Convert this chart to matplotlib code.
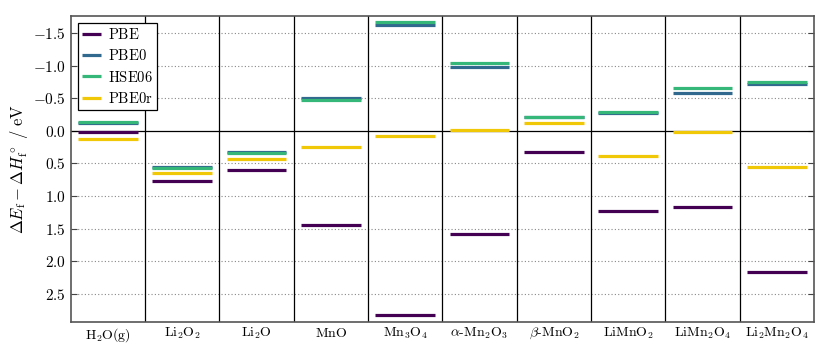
import numpy as np
import matplotlib
matplotlib.use('Agg')
import matplotlib.pyplot as plt
from matplotlib.ticker import FuncFormatter

plt.rcParams['mathtext.fontset'] = 'cm'
plt.rcParams['font.family'] = 'serif'
plt.rcParams['font.serif'] = ['DejaVu Serif']

# compounds along x
compounds = [r'$\mathrm{H_2O(g)}$', r'$\mathrm{Li_2O_2}$', r'$\mathrm{Li_2O}$',
             r'$\mathrm{MnO}$', r'$\mathrm{Mn_3O_4}$', r'$\alpha\mathrm{\text{-}Mn_2O_3}$',
             r'$\beta\mathrm{\text{-}MnO_2}$', r'$\mathrm{LiMnO_2}$',
             r'$\mathrm{LiMn_2O_4}$', r'$\mathrm{Li_2Mn_2O_4}$']

# Delta E_f - Delta H_f (eV), one list per functional
pbe   = [0.02, 0.77, 0.60, 1.45, 2.82, 1.59, 0.32, 1.23, 1.17, 2.16]
pbe0  = [-0.12, 0.56, 0.33, -0.50, -1.62, -0.98, -0.21, -0.28, -0.59, -0.72]
hse06 = [-0.13, 0.57, 0.34, -0.48, -1.67, -1.04, -0.22, -0.29, -0.66, -0.75]
pbe0r = [0.12, 0.65, 0.43, 0.24, 0.08, -0.01, -0.12, 0.39, 0.02, 0.56]

series = [('PBE', pbe, '#440154'),
          ('PBE0', pbe0, '#31688e'),
          ('HSE06', hse06, '#35b779'),
          ('PBE0r', pbe0r, '#f0c808')]

fig = plt.figure(figsize=(8.3, 3.56), dpi=100)
ax = fig.add_axes([0.0852, 0.0963, 0.8955, 0.8597])

n = len(compounds)
for label, vals, col in series:
    for i, v in enumerate(vals):
        ax.plot([i + 0.1, i + 0.9], [v, v], color=col, lw=2.3,
                solid_capstyle='butt', label=label if i == 0 else None, zorder=3)

for i in range(1, n):
    ax.axvline(i, color='black', lw=0.9, zorder=2)
ax.axhline(0, color='black', lw=0.9, zorder=2)

ax.set_xlim(0, n)
ax.set_ylim(2.93, -1.77)
ax.set_yticks(np.arange(-1.5, 2.6, 0.5))
ax.yaxis.set_major_formatter(FuncFormatter(lambda y, p: r'$%.1f$' % (0.0 if abs(y) < 1e-9 else y)))
for t in np.arange(-1.5, 2.6, 0.5):
    if abs(t) > 1e-9:
        ax.axhline(t, color='#888888', lw=0.8, ls=(0, (1, 2)), zorder=1)

ax.set_xticks(np.arange(n) + 0.5)
ax.set_xticklabels(compounds, fontsize=10)
ax.tick_params(axis='x', length=0, pad=3)
ax.tick_params(axis='y', direction='in', length=4, right=True, labelsize=11, color='#444444')

for s in ax.spines.values():
    s.set_color('#555555')
    s.set_linewidth(1.2)

ax.set_ylabel(r'$\Delta E_\mathrm{f} - \Delta H^\circ_\mathrm{f}\ /\ \mathrm{eV}$', fontsize=12, labelpad=2)

leg = ax.legend(loc='upper left', fancybox=False, framealpha=1,
                edgecolor='black', handlelength=1.3, handletextpad=0.45,
                labelspacing=0.42, borderpad=0.3, borderaxespad=0.5,
                prop={'family': 'serif', 'size': 10.5})
leg.get_frame().set_linewidth(0.9)
for t in leg.get_texts():
    t.set_text(r'$\mathrm{%s}$' % t.get_text())

fig.savefig('out.png', dpi=100)
